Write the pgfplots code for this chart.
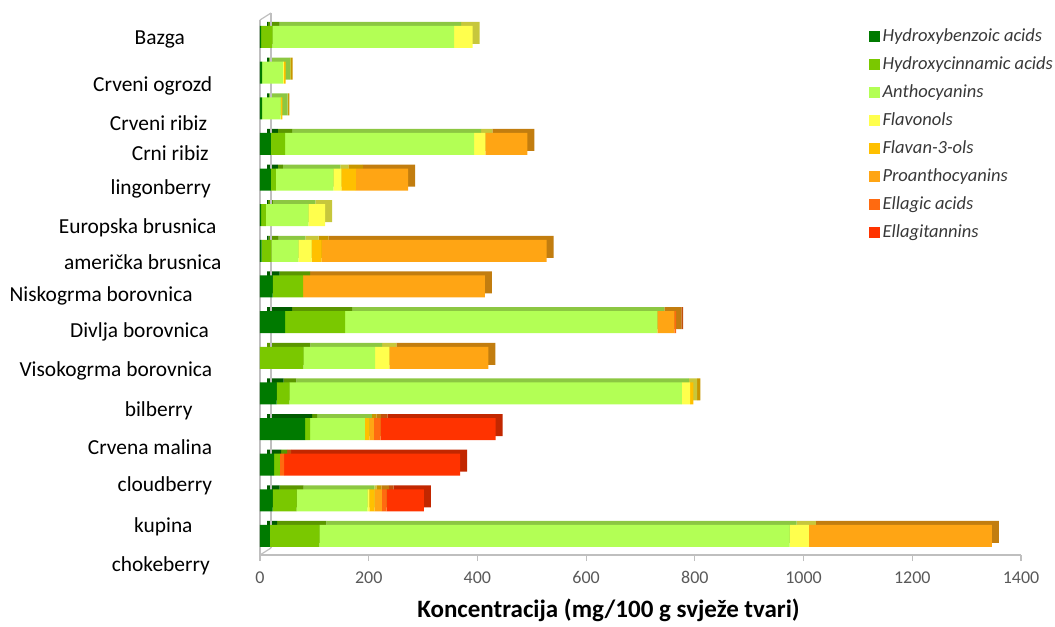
\documentclass[border=0pt]{standalone}
\usepackage{pgfplots}
\pgfplotsset{compat=1.18}
\usepackage{pgfplotstable}
\usepackage{fontspec}
\setmainfont{Carlito}

\definecolor{hb}{HTML}{007A00}
\definecolor{hc}{HTML}{7AC800}
\definecolor{an}{HTML}{B3FF55}
\definecolor{fl}{HTML}{FFFF4D}
\definecolor{fa}{HTML}{FFC000}
\definecolor{pa}{HTML}{FFA514}
\definecolor{ea}{HTML}{FF6A10}
\definecolor{et}{HTML}{FF3300}
\definecolor{axgray}{HTML}{BFBFBF}
\definecolor{tickgray}{HTML}{595959}
\definecolor{leggray}{HTML}{383838}

\newcommand\ylab{\fontsize{21.4bp}{25bp}\selectfont}
\newcommand\tickfont{\fontsize{18bp}{21bp}\selectfont}
\newcommand\legfont{\fontsize{18.5bp}{22bp}\selectfont\itshape}

% one row per fruit, top bar (Bazga) = 14, bottom (chokeberry) = 0
\pgfplotstableread{
idx hb   hc    an    fl   fa   pa    ea   et
14  2    21    334   34   0    0     0    0
13  4    0     38    2    3    0     0    0
12  4    0     34    1    2    0     0    0
11  20   26    348   20.5 0    77.5  0    0
10  20   9.4   105.5 15   26.5 96    0    0
9   2    9     78    31   0    0     0    0
8   3    18.5  49    24.5 18.5 414   0    0
7   23.4 56    0     0    0    334.3 0    0
6   46   110.4 574.6 0    0    31.4  3    0
5   0    79.7  131.9 26.4 0    182   0    0
4   30.7 23.3  722   15.4 6    0     0    0
3   82.8 9.2   101   0    8    8.6   12.3 211.6
2   25.8 11    0     0    0    0     7.4  324
1   23.4 44    130   3.7  10   13    9    68.5
0   18.4 91    865   35.5 0    336.7 0    0
}\berries

\pgfplotsset{
  berryaxis/.style={
    width=761bp, height=535bp, scale only axis,
    xmin=0, xmax=1400, ymin=-0.534, ymax=14.477,
    xbar stacked, bar width=22bp, clip=false,
  },
}

\begin{document}
\begin{tikzpicture}
% back copy: gives the bars their top and end faces
\begin{axis}[berryaxis, at={(7bp,4bp)}, anchor=south west, hide axis]
  \draw[axgray, line width=1.2bp] ([xshift=4bp,yshift=3bp]axis description cs:0,0) -- ([xshift=4bp,yshift=3bp]axis description cs:0,1);
  \draw[axgray, line width=1.2bp] ([xshift=-7bp,yshift=-4bp]axis description cs:0,1) -- ([xshift=4bp,yshift=3bp]axis description cs:0,1);
  \draw[axgray, line width=1.2bp] ([xshift=-7bp,yshift=-4bp]axis description cs:0,0) -- ([xshift=4bp,yshift=3bp]axis description cs:0,0);
  \addplot[fill=hb!75!black, draw=none] table[x=hb, y=idx]{\berries};
  \addplot[fill=hc!75!black, draw=none] table[x=hc, y=idx]{\berries};
  \addplot[fill=an!78!black, draw=none] table[x=an, y=idx]{\berries};
  \addplot[fill=fl!78!black, draw=none] table[x=fl, y=idx]{\berries};
  \addplot[fill=fa!78!black, draw=none] table[x=fa, y=idx]{\berries};
  \addplot[fill=pa!76!black, draw=none] table[x=pa, y=idx]{\berries};
  \addplot[fill=ea!76!black, draw=none] table[x=ea, y=idx]{\berries};
  \addplot[fill=et!76!black, draw=none] table[x=et, y=idx]{\berries};
\end{axis}

\begin{axis}[berryaxis, at={(0bp,0bp)}, anchor=south west,
  axis x line*=bottom, axis y line*=left,
  axis line style={draw=axgray, line width=1.2bp, -},
  ytick=\empty,
  xtick={0,200,...,1400},
  tick align=outside, major tick length=6bp,
  tick style={draw=axgray, line width=1.2bp},
  /pgf/number format/assume math mode=true,
  /pgf/number format/1000 sep={},
  xticklabel style={font=\tickfont, text=tickgray, yshift=-7bp},
  xlabel={Koncentracija (mg/100 g svježe tvari)},
  xlabel style={at={(axis description cs:0.458,0)}, anchor=base, yshift=-62bp,
    font=\fontsize{25bp}{29bp}\selectfont\bfseries},
  legend cell align=left,
  legend image code/.code={\fill[#1] (0bp,-5.5bp) rectangle (11bp,5.5bp);},
  legend style={at={(axis description cs:0.800,0.985)}, anchor=north west,
    draw=none, fill=none, inner sep=0pt, row sep=11bp,
    font=\legfont, text=leggray,
    nodes={inner xsep=2.5bp, inner ysep=0pt, text height=13bp, text depth=4bp}},
]
  \addplot[fill=hb, draw=none] table[x=hb, y=idx]{\berries};
  \addlegendentry{Hydroxybenzoic acids}
  \addplot[fill=hc, draw=none] table[x=hc, y=idx]{\berries};
  \addlegendentry{Hydroxycinnamic acids}
  \addplot[fill=an, draw=none] table[x=an, y=idx]{\berries};
  \addlegendentry{Anthocyanins}
  \addplot[fill=fl, draw=none] table[x=fl, y=idx]{\berries};
  \addlegendentry{Flavonols}
  \addplot[fill=fa, draw=none] table[x=fa, y=idx]{\berries};
  \addlegendentry{Flavan-3-ols}
  \addplot[fill=pa, draw=none] table[x=pa, y=idx]{\berries};
  \addlegendentry{Proanthocyanins}
  \addplot[fill=ea, draw=none] table[x=ea, y=idx]{\berries};
  \addlegendentry{Ellagic acids}
  \addplot[fill=et, draw=none] table[x=et, y=idx]{\berries};
  \addlegendentry{Ellagitannins}

  % category names, placed where the reference puts them
  \node[anchor=base east, inner sep=0pt, font=\ylab] at (axis cs:-138.0,13.776) {Bazga};
  \node[anchor=base east, inner sep=0pt, font=\ylab] at (axis cs:-87.8,12.476) {Crveni ogrozd};
  \node[anchor=base east, inner sep=0pt, font=\ylab] at (axis cs:-94.0,10.529) {Crni ribiz};
  \node[anchor=base east, inner xsep=4bp, inner ysep=0pt, xshift=4bp, text depth=18.8bp, fill=white, font=\ylab] at (axis cs:-97.0,11.363) {Crveni ribiz};
  \node[anchor=base east, inner sep=0pt, font=\ylab] at (axis cs:-90.2,9.586) {lingonberry};
  \node[anchor=base east, inner sep=0pt, font=\ylab] at (axis cs:-79.7,8.473) {Europska brusnica};
  \node[anchor=base east, inner sep=0pt, font=\ylab] at (axis cs:-70.5,7.482) {američka brusnica};
  \node[anchor=base east, inner sep=0pt, font=\ylab] at (axis cs:-123.8,6.573) {Niskogrma borovnica};
  \node[anchor=base east, inner sep=0pt, font=\ylab] at (axis cs:-93.8,5.563) {Divlja borovnica};
  \node[anchor=base east, inner sep=0pt, font=\ylab] at (axis cs:-87.8,4.488) {Visokogrma borovnica};
  \node[anchor=base east, inner sep=0pt, font=\ylab] at (axis cs:-123.8,3.346) {bilberry};
  \node[anchor=base east, inner sep=0pt, font=\ylab] at (axis cs:-87.8,2.272) {Crvena malina};
  \node[anchor=base east, inner sep=0pt, font=\ylab] at (axis cs:-87.8,1.242) {cloudberry};
  \node[anchor=base east, inner sep=0pt, font=\ylab] at (axis cs:-123.8,0.103) {kupina};
  \node[anchor=base east, inner sep=0pt, font=\ylab] at (axis cs:-92.0,-1.003) {chokeberry};
\end{axis}
\pgfresetboundingbox
\path[use as bounding box] (-260bp,-72bp) rectangle (795bp,555bp);
\end{tikzpicture}
\end{document}
